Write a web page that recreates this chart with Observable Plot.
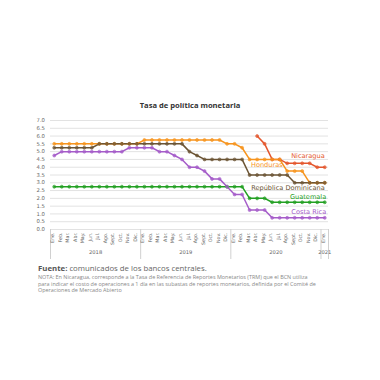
<!DOCTYPE html>
<html><head><meta charset="utf-8">
<script src="https://cdn.jsdelivr.net/npm/d3@7"></script>
<script src="https://cdn.jsdelivr.net/npm/@observablehq/plot@0.6"></script>
<style>
body{margin:0;background:#fff;width:380px;height:380px;position:relative;overflow:hidden;font-family:"Open Sans",sans-serif;}
#title{position:absolute;top:99px;left:0;width:380px;text-align:center;font-size:7.6px;font-weight:bold;color:#333;line-height:12px;}
#chart{position:absolute;top:111px;left:0;}
#cap{position:absolute;top:263px;left:38px;width:340px;}
#src{font-size:7.8px;color:#666;line-height:11px;}
#src b{color:#555;}
#note{font-size:5.45px;color:#888;line-height:6.7px;white-space:nowrap;}
</style></head>
<body>
<div id="title">Tasa de política monetaria</div>
<div id="chart"></div>
<div id="cap">
<div id="src"><b>Fuente:</b> comunicados de los bancos centrales.</div>
<div id="note">NOTA: En Nicaragua, corresponde a la Tasa de Referencia de Reportes Monetarios (TRM) que el BCN utiliza<br>para indicar el costo de operaciones a 1 día en las subastas de reportes monetarios, definida por el Comité de<br>Operaciones de Mercado Abierto</div>
</div>
<script>
const monthNames = ["Ene.","Feb.","Mar.","Abr.","May.","Jun.","Jul.","Ago.","Sept.","Oct.","Nov.","Dic."];
const yearLabels = ["2018","2019","2020","2021"];
const yearCenters = [5.5, 17.5, 29.5, 36];
const separators = [-0.5, 11.5, 23.5, 35.5, 36.5];
const yTicks = [0,0.5,1,1.5,2,2.5,3,3.5,4,4.5,5,5.5,6,6.5,7];

// Ene 2018 ... Ene 2021 (37 months)
const nicaragua = [null,null,null,null,null,null,null,null,null,null,null,null,
  null,null,null,null,null,null,null,null,null,null,null,null,
  null,null,null,6.0,5.5,4.5,4.5,4.25,4.25,4.25,4.25,4.0,4.0];
const honduras = [5.5,5.5,5.5,5.5,5.5,5.5,5.5,5.5,5.5,5.5,5.5,5.5,
  5.75,5.75,5.75,5.75,5.75,5.75,5.75,5.75,5.75,5.75,5.75,5.5,
  5.5,5.25,4.5,4.5,4.5,4.5,4.5,3.75,3.75,3.75,3.0,3.0,3.0];
const repDominicana = [5.25,5.25,5.25,5.25,5.25,5.25,5.5,5.5,5.5,5.5,5.5,5.5,
  5.5,5.5,5.5,5.5,5.5,5.5,5.0,4.75,4.5,4.5,4.5,4.5,
  4.5,4.5,3.5,3.5,3.5,3.5,3.5,3.5,3.0,3.0,3.0,3.0,3.0];
const guatemala = [2.75,2.75,2.75,2.75,2.75,2.75,2.75,2.75,2.75,2.75,2.75,2.75,
  2.75,2.75,2.75,2.75,2.75,2.75,2.75,2.75,2.75,2.75,2.75,2.75,
  2.75,2.75,2.0,2.0,2.0,1.75,1.75,1.75,1.75,1.75,1.75,1.75,1.75];
const costaRica = [4.75,5.0,5.0,5.0,5.0,5.0,5.0,5.0,5.0,5.0,5.25,5.25,
  5.25,5.25,5.0,5.0,4.75,4.5,4.0,4.0,3.75,3.25,3.25,2.75,
  2.25,2.25,1.25,1.25,1.25,0.75,0.75,0.75,0.75,0.75,0.75,0.75,0.75];

const seriesNames = ["Nicaragua","Honduras","República Dominicana","Guatemala","Costa Rica"];
const seriesColors = ["#E4572E","#F7941D","#6B5434","#22A022","#A55CC9"];
const seriesValues = [nicaragua, honduras, repDominicana, guatemala, costaRica];
// label anchor: month index (right end) and value
const labelX = [36, 30.4, 36, 36.2, 36.2];
const labelY = [4.72, 4.15, 2.68, 2.07, 1.1];

const months = d3.range(37).map(i => ({i, label: monthNames[i % 12]}));
const data = [];
seriesNames.forEach((s, k) => seriesValues[k].forEach((v, i) => data.push({series: s, i, v})));
const labels = seriesNames.map((s, k) => ({series: s, x: labelX[k], y: labelY[k]}));
const years = yearLabels.map((t, k) => ({t, x: yearCenters[k]}));

const plot = Plot.plot({
  width: 380, height: 152,
  marginLeft: 50, marginRight: 52, marginTop: 9, marginBottom: 34,
  style: {fontFamily: "DejaVu Sans, sans-serif", background: "transparent"},
  x: {domain: [-0.5, 36.5], axis: null},
  y: {domain: [0, 7], axis: null},
  color: {domain: seriesNames, range: seriesColors},
  marks: [
    Plot.ruleY(yTicks, {stroke: "#e2e2e2", strokeWidth: 1}),
    Plot.axisY({ticks: yTicks, tickFormat: d3.format(".1f"), tickSize: 0, tickPadding: 5.5, fontSize: 5.3, fill: "#666", fontFamily: "DejaVu Sans"}),
    Plot.axisX({ticks: separators, tickSize: 30, tickFormat: () => "", stroke: "#d0d0d0"}),
    Plot.text(months, {x: "i", text: "label", frameAnchor: "bottom", rotate: -90, textAnchor: "end", dy: 3, fontSize: 4.8, fill: "#666"}),
    Plot.text(years, {x: "x", text: "t", frameAnchor: "bottom", dy: 24, fontSize: 5.2, fill: "#666"}),
    Plot.line(data, {x: "i", y: "v", z: "series", stroke: "series", strokeWidth: 1.5}),
    Plot.dot(data.filter(d => d.v != null), {x: "i", y: "v", fill: "series", stroke: "series", r: 1.5, strokeWidth: 0.6, fillOpacity: 0.7}),
    Plot.text(labels, {x: "x", y: "y", text: "series", fill: "series", textAnchor: "end", fontSize: 6.6})
  ]
});
document.getElementById("chart").appendChild(plot);
</script>
</body></html>
